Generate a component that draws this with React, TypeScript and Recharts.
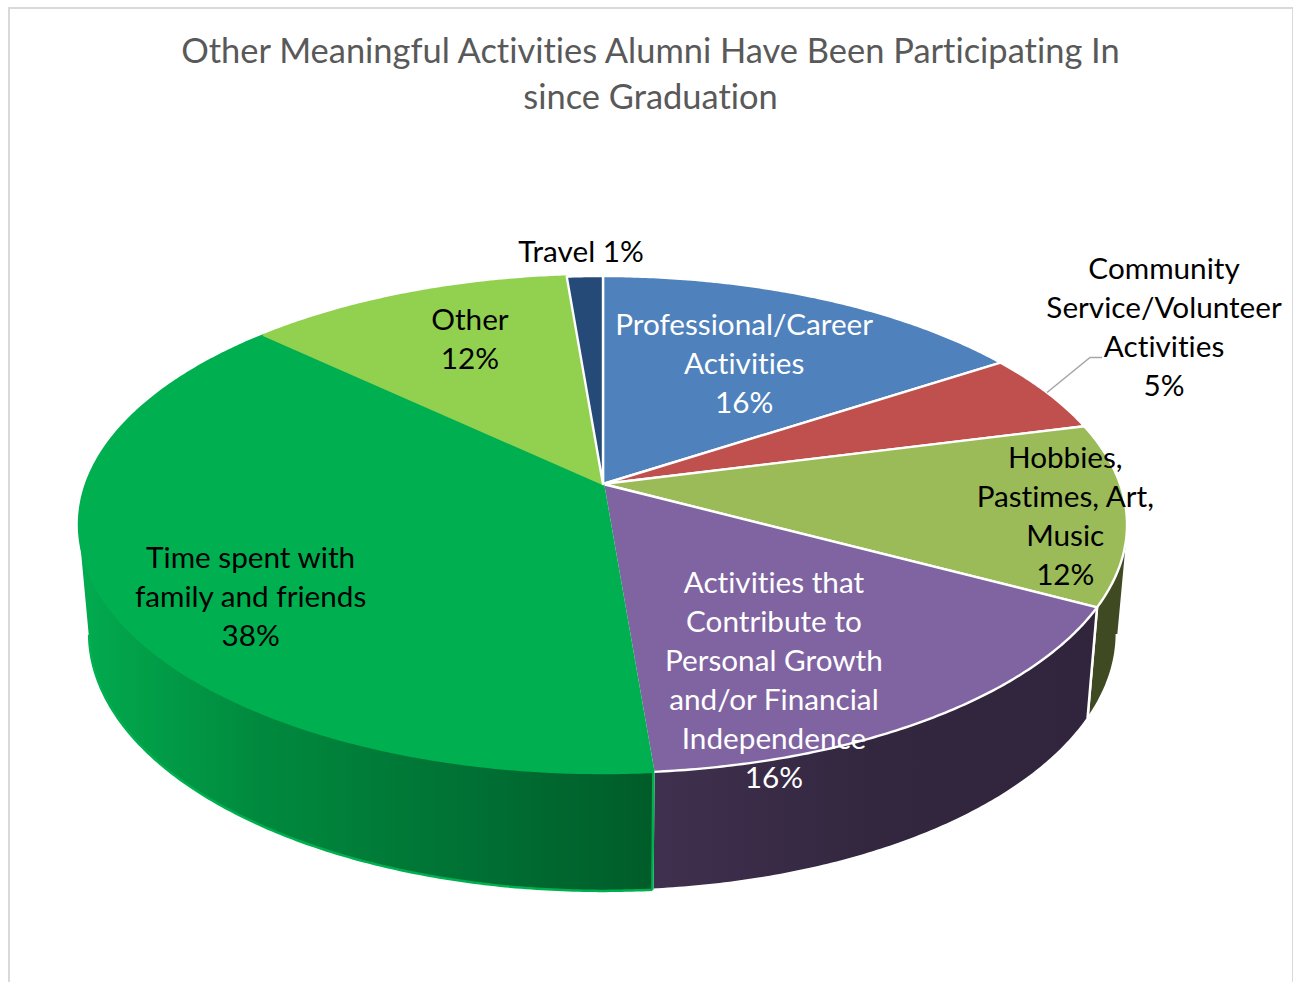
import React from "react";
import { PieChart, Pie } from "recharts";

const categories = [
  "Professional/Career Activities",
  "Community Service/Volunteer Activities",
  "Hobbies, Pastimes, Art, Music",
  "Activities that Contribute to Personal Growth and/or Financial Independence",
  "Time spent with family and friends",
  "Other",
  "Travel",
];
const values = [15.8, 5.2, 11.8, 15.9, 38.3, 11.7, 1.3];
const labelLines = [
  ["Professional/Career", "Activities"],
  ["Community", "Service/Volunteer", "Activities"],
  ["Hobbies,", "Pastimes, Art,", "Music"],
  ["Activities that", "Contribute to", "Personal Growth", "and/or Financial", "Independence"],
  ["Time spent with", "family and friends"],
  ["Other"],
  ["Travel"],
];
const topColors = ["#4f81bd", "#c0504d", "#9bbb59", "#8064a2", "#00b050", "#92d050", "#264a78"];
const wallColors = ["#2f4d71", "#73302e", "#3f4a22", "url(#wallPurple)", "url(#wallGreen)", "#587d30", "#132c4b"];
const topStrokes = ["#ffffff", "#ffffff", "#ffffff", "#ffffff", "#00b050", "#92d050", "#ffffff"];
const wallStrokes = ["#ffffff", "#ffffff", "#ffffff", "#ffffff", "#00b050", "#92d050", "#ffffff"];
const labelColors = ["#ffffff", "#000000", "#000000", "#ffffff", "#000000", "#000000", "#000000"];
const labelShift = [
  [-15.5, 15.4], [244.4, -91.3], [98, 12.4], [-48.7, 39.6], [-9.4, 36], [9.5, -6], [-8.7, -80],
];

const table = categories.map((category, i) => ({
  category,
  value: values[i],
  fill: topColors[i],
  wallFill: wallColors[i],
  stroke: topStrokes[i],
  wallStroke: wallStrokes[i],
}));

const FONT = "Lato, Carlito, Calibri, sans-serif";
const NO_LIG: React.CSSProperties = { fontVariantLigatures: "none" };
const PERSPECTIVE = 0.163;
const TOP_Y = 241.9 / 517;
const BASE_X = 507 / 517;
const BASE_Y = 251 / 517;
const BASE_DROP = 107;
const RAD = Math.PI / 180;

function project(cx: number, cy: number, R: number, angle: number, r = 1, sx = 1, sy = TOP_Y, drop = 0) {
  const x = r * Math.cos(angle * RAD);
  const y = r * Math.sin(angle * RAD);
  const d = 1 + PERSPECTIVE * y;
  return [cx + (R * sx * x) / d, cy + drop - (R * sy * y) / d];
}

function arcAngles(a0: number, a1: number) {
  const n = Math.max(2, Math.ceil(Math.abs(a1 - a0) / 0.5));
  return Array.from({ length: n + 1 }, (_, i) => a0 + ((a1 - a0) * i) / n);
}

function isFront(angle: number) {
  return Math.sin(angle * RAD) < -PERSPECTIVE;
}

function TopShape(p: any) {
  const pts = arcAngles(p.startAngle, p.endAngle).map((a) => project(p.cx, p.cy, p.outerRadius, a));
  const d = `M${p.cx},${p.cy} ` + pts.map((q) => `L${q[0].toFixed(2)},${q[1].toFixed(2)}`).join(" ") + " Z";
  return <path d={d} fill={p.fill} stroke={p.payload?.stroke ?? p.stroke} strokeWidth={2.4} strokeLinejoin="round" />;
}

function signedArea(s: number[][]) {
  let a = 0;
  s.forEach((q, i) => {
    const n = s[(i + 1) % s.length];
    a += q[0] * n[1] - n[0] * q[1];
  });
  return a;
}

function WallShape(p: any) {
  const angles = arcAngles(p.startAngle, p.endAngle);
  const top = angles.map((a) => project(p.cx, p.cy, p.outerRadius, a));
  const base = angles.map((a) => project(p.cx, p.cy, p.outerRadius, a, 1, BASE_X, BASE_Y, BASE_DROP));
  let d = "";
  for (let i = 0; i < angles.length - 1; i++) {
    let s = [top[i], top[i + 1], base[i + 1], base[i]];
    if (signedArea(s) < 0) s = s.slice().reverse();
    d += "M" + s.map((q) => `${q[0].toFixed(2)},${q[1].toFixed(2)}`).join(" L") + " Z ";
  }
  const visibleBase = base.filter((_, i) => isFront(angles[i]));
  let edge = visibleBase.length > 1
    ? "M" + visibleBase.map((q) => `${q[0].toFixed(2)},${q[1].toFixed(2)}`).join(" L")
    : "";
  const last = angles.length - 1;
  if (isFront(angles[0])) {
    edge += ` M${top[0][0].toFixed(2)},${top[0][1].toFixed(2)} L${base[0][0].toFixed(2)},${base[0][1].toFixed(2)}`;
  }
  if (isFront(angles[last])) {
    edge += ` M${top[last][0].toFixed(2)},${top[last][1].toFixed(2)} L${base[last][0].toFixed(2)},${base[last][1].toFixed(2)}`;
  }
  return (
    <g>
      <path d={d} fill={p.payload?.wallFill} stroke="none" />
      {edge && <path d={edge} fill="none" stroke={p.payload?.wallStroke} strokeWidth={2.5} />}
    </g>
  );
}

function SliceLabel(p: any) {
  const i = p.index;
  const [ax, ay] = project(p.cx, p.cy, p.outerRadius, p.midAngle, 0.7);
  const x = ax + labelShift[i][0];
  const y = ay + labelShift[i][1];
  const pct = `${Math.round(values[i])}%`;
  const lines = i === 6 ? [`${labelLines[i][0]} ${pct}`] : [...labelLines[i], pct];
  const lh = 39;
  const y0 = y - ((lines.length - 1) * lh) / 2;
  const [ex, ey] = project(p.cx, p.cy, p.outerRadius, p.midAngle);
  return (
    <g>
      {i === 1 && (
        <polyline
          points={`${ex},${ey} ${ex + 43},${ey - 35} ${ex + 55},${ey - 35}`}
          fill="none"
          stroke="#a6a6a6"
          strokeWidth={1.5}
        />
      )}
      <text textAnchor="middle" fontFamily={FONT} fontSize={29.7} fill={labelColors[i]} style={NO_LIG}>
        {lines.map((t, k) => (
          <tspan key={k} x={x} y={y0 + k * lh} dy="0.34em">
            {t}
          </tspan>
        ))}
      </text>
    </g>
  );
}

export default function App() {
  return (
    <div style={{ position: "absolute", left: 0, top: 0, width: 1293, height: 982, background: "#fff", overflow: "hidden" }}>
      <div style={{ position: "absolute", left: 8, top: 7, width: 1286, height: 1000, border: "2px solid #d9d9d9", boxSizing: "border-box" }} />
      <div style={{ position: "absolute", left: 0, top: 0 }}>
        <PieChart width={1293} height={982} margin={{ top: 0, right: 0, bottom: 0, left: 0 }}>
          <defs>
            <linearGradient id="wallGreen" gradientUnits="userSpaceOnUse" x1="85" y1="0" x2="654" y2="0">
              <stop offset="0" stopColor="#02aa4e" />
              <stop offset="0.3" stopColor="#008a3e" />
              <stop offset="0.7" stopColor="#006f33" />
              <stop offset="1" stopColor="#005c29" />
            </linearGradient>
            <linearGradient id="wallPurple" gradientUnits="userSpaceOnUse" x1="654" y1="0" x2="1085" y2="0">
              <stop offset="0" stopColor="#40304f" />
              <stop offset="0.5" stopColor="#33273f" />
              <stop offset="1" stopColor="#30253c" />
            </linearGradient>
          </defs>
          <text textAnchor="middle" fontFamily={FONT} fontSize={34.45} fill="#595959" style={NO_LIG}>
            <tspan x={650.5} y={51.5} dy="0.34em">Other Meaningful Activities Alumni Have Been Participating In</tspan>
            <tspan x={650.5} y={97.5} dy="0.34em">since Graduation</tspan>
          </text>
          <Pie
            data={table}
            dataKey="value"
            nameKey="category"
            cx={603}
            cy={484}
            outerRadius={517}
            innerRadius={0}
            startAngle={90}
            endAngle={-270}
            isAnimationActive={false}
            shape={WallShape}
            label={false}
            labelLine={false}
          />
          <Pie
            data={table}
            dataKey="value"
            nameKey="category"
            cx={603}
            cy={484}
            outerRadius={517}
            innerRadius={0}
            startAngle={90}
            endAngle={-270}
            isAnimationActive={false}
            shape={TopShape}
            label={SliceLabel}
            labelLine={false}
          />
        </PieChart>
      </div>
    </div>
  );
}
